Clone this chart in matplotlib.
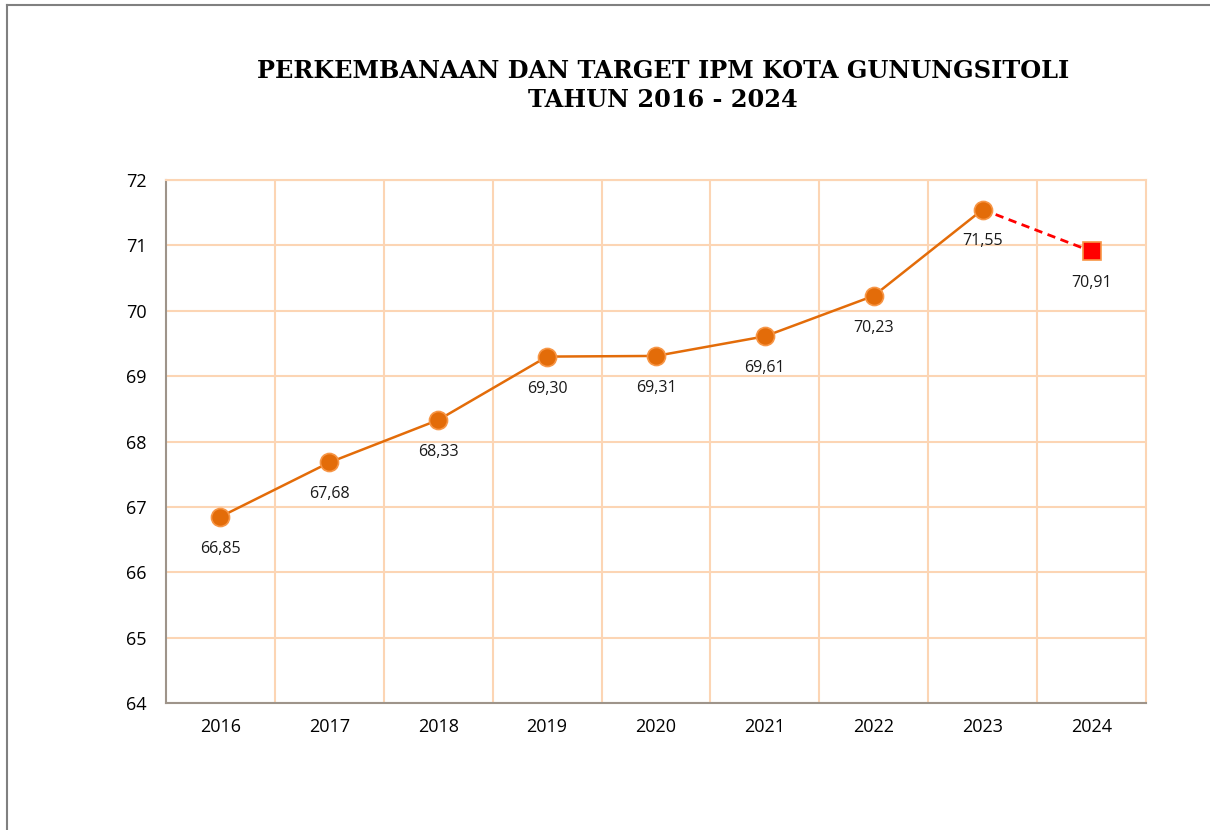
import matplotlib.pyplot as plt
from matplotlib.lines import Line2D
from matplotlib.ticker import MultipleLocator

tahun = ['2016', '2017', '2018', '2019', '2020', '2021', '2022', '2023', '2024']
ipm = [66.85, 67.68, 68.33, 69.30, 69.31, 69.61, 70.23, 71.55]
target_2024 = 70.91

oranye = '#E36C09'
oranye_muda = '#F79646'
grid_warna = '#FCD5B4'

plt.rcParams['font.family'] = ['Open Sans', 'DejaVu Sans']

fig = plt.figure(figsize=(12.1, 8.3), dpi=100)
ax = fig.add_axes([0.1372, 0.153, 0.8099, 0.630])

x = list(range(len(ipm)))
ax.plot(x, ipm, color=oranye, lw=1.8, marker='o', ms=13,
        mfc=oranye, mec=oranye_muda, mew=1.2, zorder=3)
# garis target (putus-putus)
ax.plot([x[-1], len(ipm)], [ipm[-1], target_2024], color='red', lw=2,
        ls=(0, (3, 2)), zorder=2)
ax.plot([len(ipm)], [target_2024], marker='s', ms=13, color='red',
        mec=oranye_muda, mew=1.2, ls='none', zorder=3)

semua = ipm + [target_2024]
for i, v in enumerate(semua):
    ax.annotate(f'{v:.2f}'.replace('.', ','), (i, v), xytext=(0, -23),
                textcoords='offset points', ha='center', va='center',
                fontsize=11.5, color='#1a1a1a')

ax.set_xlim(-0.5, len(tahun) - 0.5)
ax.set_ylim(64, 72)
ax.yaxis.set_major_locator(MultipleLocator(1))
ax.set_xticks(range(len(tahun)))
ax.set_xticklabels(tahun)
ax.set_xticks([i + 0.5 for i in range(len(tahun) - 1)], minor=True)
ax.grid(True, which='minor', axis='x', color=grid_warna, lw=1.5)
ax.grid(True, which='major', axis='y', color=grid_warna, lw=1.5)
ax.set_axisbelow(True)
ax.tick_params(which='both', length=0, labelsize=13, colors='black')
ax.tick_params(axis='x', pad=11)
ax.tick_params(axis='y', pad=14)

for s in ['top', 'right']:
    ax.spines[s].set_color(grid_warna)
    ax.spines[s].set_linewidth(1.5)
for s in ['left', 'bottom']:
    ax.spines[s].set_color('#9E948A')
    ax.spines[s].set_linewidth(1.5)

fig.text(0.548, 0.915, 'PERKEMBANAAN DAN TARGET IPM KOTA GUNUNGSITOLI',
         ha='center', va='center', fontsize=17.3, fontweight='heavy',
         family='DejaVu Serif')
fig.text(0.548, 0.879, 'TAHUN 2016 - 2024', ha='center', va='center',
         fontsize=17.3, fontweight='heavy', family='DejaVu Serif')

# bingkai
fig.add_artist(Line2D([0.006, 0.006], [0, 0.994], color='#808080', lw=1.5))
fig.add_artist(Line2D([0.006, 1], [0.994, 0.994], color='#808080', lw=1.5))

fig.savefig('out.png', dpi=100)
